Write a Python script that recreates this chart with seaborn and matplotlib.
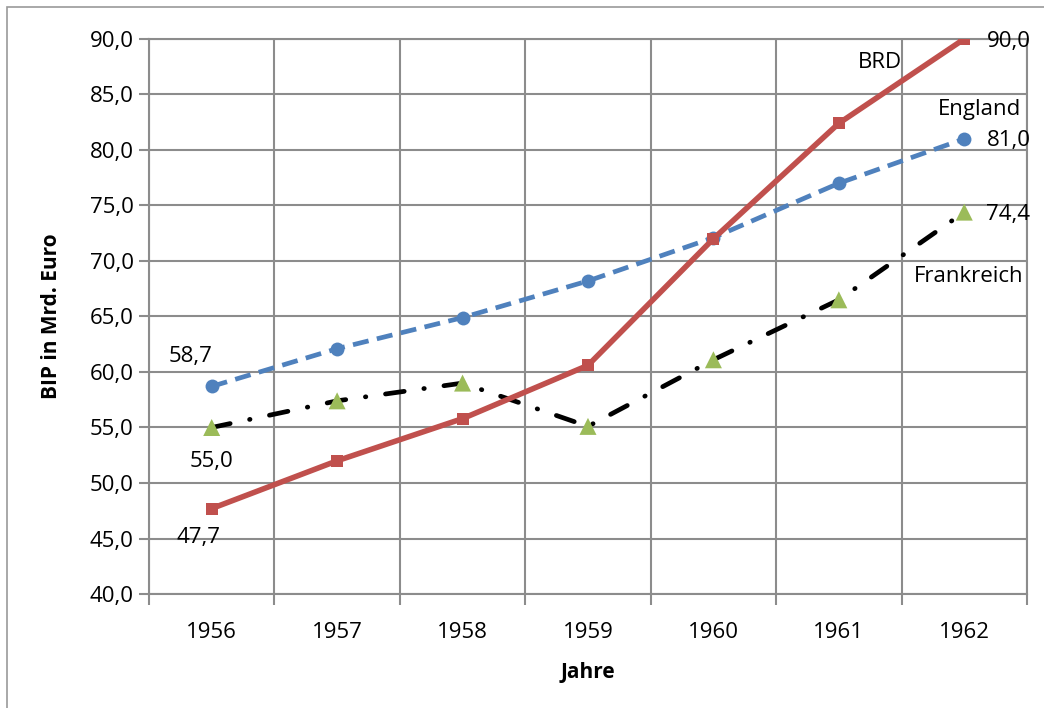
import seaborn as sns
import matplotlib.pyplot as plt
import matplotlib.patches as mpatches
import pandas as pd
import numpy as np

# data
years = ["1956", "1957", "1958", "1959", "1960", "1961", "1962"]
brd = [47.7, 52.0, 55.8, 60.6, 72.0, 82.4, 90.0]
england = [58.7, 62.1, 64.9, 68.2, 72.1, 77.0, 81.0]
frankreich = [55.0, 57.4, 59.0, 55.1, 61.1, 66.5, 74.4]

df = pd.DataFrame({
    "pos": np.arange(len(years)),
    "BRD": brd,
    "England": england,
    "Frankreich": frankreich,
})

sns.set_style("white")
plt.rcParams["font.family"] = ["Open Sans", "DejaVu Sans"]
plt.rcParams["text.color"] = "black"
plt.rcParams["axes.labelcolor"] = "black"

fig = plt.figure(figsize=(10.44, 7.08), dpi=100)
ax = fig.add_axes([0.1427, 0.161, 0.841, 0.784])

grid_c = "#8c8c8c"

# outer frame of the chart
fig.patches.append(mpatches.Rectangle((7 / 1044, -0.02), 1.1, 1 - 7 / 708 + 0.02,
                                      transform=fig.transFigure, fill=False,
                                      edgecolor="#9a9a9a", lw=1.2))

# Frankreich: black dash-dot line, green triangles
sns.lineplot(data=df, x="pos", y="Frankreich", ax=ax, color="black", lw=3.4,
             zorder=3)
ax.lines[-1].set_dashes((4.0, 4.2, 0.1, 4.2))
ax.lines[-1].set_dash_capstyle("round")
sns.scatterplot(data=df, x="pos", y="Frankreich", ax=ax, marker="^", s=150,
                color="#9BBB59", edgecolor="none", zorder=4)

# England: blue dashed with circles
sns.lineplot(data=df, x="pos", y="England", ax=ax, color="#4F81BD", lw=3.4,
             marker="o", markersize=10, markeredgewidth=0, zorder=5)
ax.lines[-1].set_dashes((3.4, 1.8))

# BRD: red solid with squares
sns.lineplot(data=df, x="pos", y="BRD", ax=ax, color="#C0504D", lw=4,
             marker="s", markersize=8, markeredgewidth=0, zorder=6)

ax.set_xlim(-0.5, len(years) - 0.5)
ax.set_ylim(40, 90)
ax.set_yticks(np.arange(40, 91, 5))
ax.set_yticklabels([f"{v:.1f}".replace(".", ",") for v in np.arange(40, 91, 5)])
ax.set_xticks(np.arange(len(years)))
ax.set_xticklabels(years)
ax.set_xticks(np.arange(len(years) + 1) - 0.5, minor=True)

ax.grid(axis="y", which="major", color=grid_c, lw=1.5)
ax.grid(axis="x", which="minor", color=grid_c, lw=1.5)
ax.set_axisbelow(True)
ax.tick_params(axis="x", which="major", length=0, labelsize=16, pad=20,
               labelcolor="black")
ax.tick_params(axis="x", which="minor", length=8, color=grid_c, width=1.5,
               direction="out", bottom=True)
ax.tick_params(axis="y", length=7, color=grid_c, width=1.5, labelsize=16,
               pad=4, left=True, labelcolor="black")
for s in ax.spines.values():
    s.set_color(grid_c)
    s.set_linewidth(1.5)

ax.set_xlabel("Jahre", fontsize=15, fontweight="bold", labelpad=14)
ax.set_ylabel("BIP in Mrd. Euro", fontsize=15, fontweight="bold", labelpad=20)

# value labels
fs = 16
ax.annotate("58,7", (0, england[0]), xytext=(-15, 21.5), textcoords="offset points",
            ha="center", va="center", fontsize=fs)
ax.annotate("55,0", (0, frankreich[0]), xytext=(0, -24.5), textcoords="offset points",
            ha="center", va="center", fontsize=fs)
ax.annotate("47,7", (0, brd[0]), xytext=(-9.5, -21), textcoords="offset points",
            ha="center", va="center", fontsize=fs)
for val in (brd[-1], england[-1], frankreich[-1]):
    ax.annotate(f"{val:.1f}".replace(".", ","), (6, val), xytext=(16, -1.5),
                textcoords="offset points", ha="left", va="center", fontsize=fs)

# series names
ax.text(5.33, 87.9, "BRD", ha="center", va="center", fontsize=fs)
ax.text(6.45, 83.6, "England", ha="right", va="center", fontsize=fs)
ax.text(5.60, 68.6, "Frankreich", ha="left", va="center", fontsize=fs)

fig.savefig("out.png", dpi=100)
